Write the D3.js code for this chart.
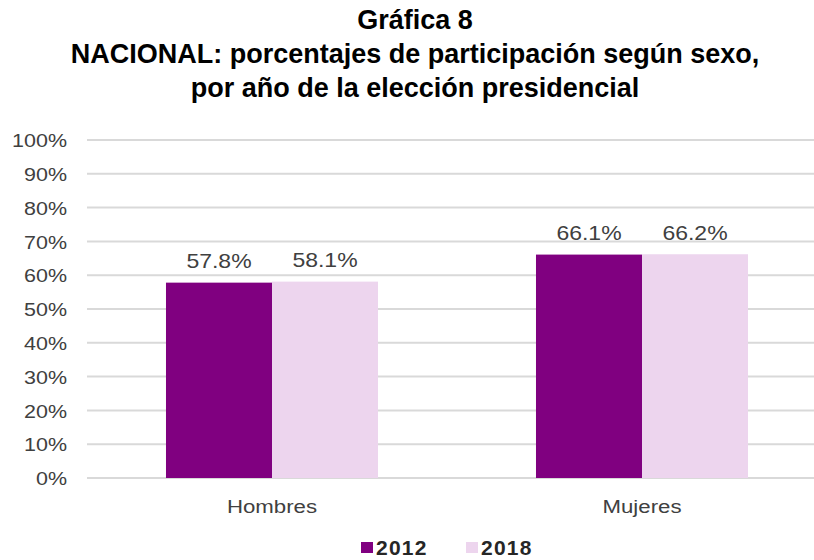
<!DOCTYPE html>
<html><head><meta charset="utf-8">
<script src="https://cdn.jsdelivr.net/npm/d3@7"></script>
<style>body{margin:0;background:#fff}</style>
</head><body>
<svg id="c" width="814" height="560"></svg>
<script>
const titleLines = ["Gráfica 8","NACIONAL: porcentajes de participación según sexo,","por año de la elección presidencial"];
const categories = ["Hombres","Mujeres"];
const years = ["2012","2018"];
const values2012 = [57.8, 66.1];
const values2018 = [58.1, 66.2];
const yTicks = [0,10,20,30,40,50,60,70,80,90,100];
const colors = ["#800080","#EDD5EE"];

(function(){
const data = categories.map((c,i)=>({cat:c, vals:[values2012[i], values2018[i]]}));
const svg = d3.select("#c");
const font = "'Liberation Sans', Arial, sans-serif";

const pLeft = 87, pRight = 827, pTop = 140, pBottom = 478;
const x0 = d3.scaleBand().domain(categories).range([pLeft, pRight]).padding(0);
const x1 = d3.scaleBand().domain(years).range([0, x0.bandwidth()]).paddingInner(0).paddingOuter(0.745);
const y = d3.scaleLinear().domain([0,100]).range([pBottom, pTop]);

// title
svg.append("g").selectAll("text").data(titleLines).join("text")
  .attr("x", 415).attr("y", (d,i)=>29 + i*34)
  .attr("text-anchor","middle").attr("font-family",font).attr("font-weight","bold")
  .attr("font-size", 27).attr("fill","#000").text(d=>d);

// grid
svg.append("g").selectAll("line").data(yTicks).join("line")
  .attr("x1", pLeft).attr("x2", 814).attr("y1", d=>y(d)).attr("y2", d=>y(d))
  .attr("stroke","#d9d9d9").attr("stroke-width",2);

// y axis
const yAxis = d3.axisLeft(y).tickValues(yTicks).tickFormat(d=>d+"%").tickSize(0).tickPadding(0);
const ya = svg.append("g").attr("transform",`translate(67,0)`).call(yAxis);
ya.select(".domain").remove();
ya.selectAll("text").attr("font-family",font).attr("font-size",19).attr("transform","scale(1.13,1)")
  .attr("fill","#404040").attr("dy","0.35em");

// bars
const g = svg.append("g").selectAll("g").data(data).join("g")
  .attr("transform", d=>`translate(${x0(d.cat)},0)`);
g.selectAll("rect").data(d=>d.vals.map((v,i)=>({v, yr:years[i], i}))).join("rect")
  .attr("x", d=>x1(d.yr)).attr("width", x1.bandwidth())
  .attr("y", d=>y(d.v)).attr("height", d=>y(0)-y(d.v))
  .attr("fill", d=>colors[d.i]);
g.selectAll("text").data(d=>d.vals.map((v,i)=>({v, yr:years[i], i}))).join("text")
  .attr("transform", d=>`translate(${x1(d.yr)+x1.bandwidth()/2},${y(d.v)-14.5}) scale(1.15,1)`)
  .attr("text-anchor","middle").attr("font-family",font).attr("font-size",20)
  .attr("fill","#404040")
  .text(d=>d.v.toFixed(1)+"%");

// x axis labels
const xAxis = d3.axisBottom(x0).tickSize(0).tickPadding(0);
const xa = svg.append("g").attr("transform",`translate(0,${pBottom})`).call(xAxis);
xa.select(".domain").remove();
xa.selectAll("text").attr("font-family",font).attr("font-size",19).attr("transform","scale(1.17,1)")
  .attr("fill","#404040").attr("dy","0").attr("y",35);

// legend
const legX = [361, 466];
const lg = svg.append("g").selectAll("g").data(years).join("g")
  .attr("transform",(d,i)=>`translate(${legX[i]},0)`);
lg.append("rect").attr("x",0).attr("y",542).attr("width",12).attr("height",11).attr("fill",(d,i)=>colors[i]);
lg.append("text").attr("x",15).attr("y",555).attr("font-family",font).attr("font-weight","bold")
  .attr("font-size",21).attr("letter-spacing",1.2).attr("fill","#262626").text(d=>d);
})();
</script>
</body></html>
